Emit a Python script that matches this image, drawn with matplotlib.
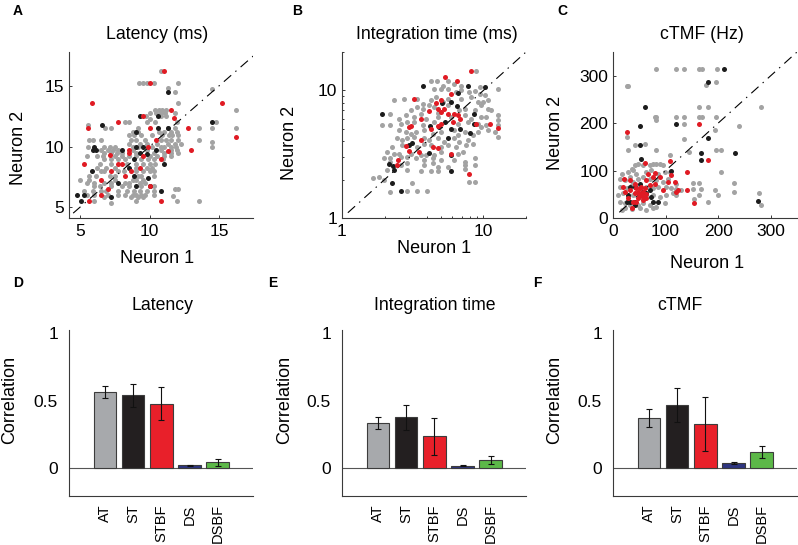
import numpy as np
import matplotlib
matplotlib.use('Agg')
import matplotlib.pyplot as plt
from matplotlib.ticker import NullFormatter

plt.rcParams['font.family'] = ['Liberation Sans', 'DejaVu Sans']
plt.rcParams['lines.scale_dashes'] = False

# ---- data: panel A latency (ms), neuron 1 vs neuron 2 ----
lat_grey = [
    (10.8, 16.25), (9.25, 15.25), (9.55, 15.25), (9.8, 15.25), (10.3, 15.25), (12.05, 15.25),
    (11.3, 14.85), (11.8, 14.5), (14.5, 14.75), (12.05, 13.55),
    (10.4, 13.0), (10.65, 13.0), (10.9, 13.0), (11.15, 13.0), (16.25, 13.0),
    (10.0, 12.75), (10.5, 12.75), (10.8, 12.75), (11.1, 12.75), (11.8, 12.75),
    (9.75, 12.5), (10.85, 12.5), (11.15, 12.5), (10.05, 12.25),
    (8.25, 12.05), (8.5, 12.05), (9.8, 12.05), (10.4, 12.05), (12.0, 12.05), (14.75, 12.05),
    (5.55, 11.75), (6.8, 11.5), (7.2, 11.5), (9.15, 11.5), (11.3, 11.5), (11.8, 11.5),
    (13.55, 11.5), (14.5, 11.5), (16.25, 11.5),
    (8.8, 11.2), (9.2, 11.2), (10.65, 11.2), (11.05, 11.2), (11.55, 11.2), (12.0, 11.2),
    (8.55, 10.95), (8.9, 10.95), (9.4, 10.95), (10.15, 10.95), (10.9, 10.95), (11.4, 10.95),
    (11.65, 10.95), (12.05, 10.95),
    (5.65, 10.5), (5.9, 10.5), (6.5, 10.5), (8.65, 10.5), (9.05, 10.5), (9.65, 10.5), (10.8, 10.5),
    (11.15, 10.5), (11.55, 10.5), (12.05, 10.5), (13.55, 10.5), (14.5, 10.4),
    (8.55, 10.2), (9.3, 10.2), (9.8, 10.2), (10.55, 10.2), (11.3, 10.2), (11.8, 10.2), (12.3, 10.2),
    (5.55, 10.0), (6.7, 10.0), (7.15, 10.0), (7.5, 10.0), (8.8, 10.0), (9.15, 10.0), (10.15, 10.0),
    (10.8, 10.0), (11.05, 10.0), (11.55, 10.0), (11.9, 10.0), (14.5, 10.0),
    (6.5, 9.7), (7.0, 9.7), (7.4, 9.7), (7.75, 9.7), (8.8, 9.7), (9.8, 9.7), (10.8, 9.7), (11.55, 9.7), (11.95, 9.7),
    (6.75, 9.5), (7.25, 9.5), (7.65, 9.5), (8.0, 9.5), (9.05, 9.5), (10.3, 9.5), (11.05, 9.5), (11.55, 9.5), (12.05, 9.5),
    (5.5, 9.25), (6.25, 9.25), (6.65, 9.25), (7.5, 9.25), (8.0, 9.25), (8.55, 9.25), (9.05, 9.25),
    (10.05, 9.25), (10.55, 9.25), (11.05, 9.25), (11.55, 9.25),
    (6.75, 8.95), (7.25, 8.95), (7.75, 8.95), (8.25, 8.95), (9.4, 8.95), (9.9, 8.95), (10.3, 8.95), (11.0, 8.95),
    (6.4, 8.55), (7.25, 8.55), (8.4, 8.55), (9.05, 8.55), (9.55, 8.55), (10.05, 8.55), (10.4, 8.55),
    (6.25, 8.25), (6.9, 8.25), (7.5, 8.25), (9.05, 8.25), (9.8, 8.25), (10.15, 8.25),
    (6.5, 8.0), (6.75, 8.0), (7.75, 8.0), (8.15, 8.0), (9.05, 8.0), (9.55, 8.0), (10.05, 8.0), (10.3, 8.0),
    (5.65, 7.55), (6.15, 7.55), (7.15, 7.55), (7.5, 7.55), (9.15, 7.55), (9.4, 7.55), (10.3, 7.55),
    (5.0, 7.2), (5.65, 7.2), (7.5, 7.2), (8.8, 7.2), (9.05, 7.2), (9.55, 7.2),
    (5.5, 7.0), (6.0, 7.0), (6.75, 7.0), (7.25, 7.0), (8.25, 7.0), (8.55, 7.0), (9.3, 7.0), (9.65, 7.0),
    (6.0, 6.7), (6.4, 6.7), (7.25, 6.7), (8.0, 6.7), (8.55, 6.7), (9.4, 6.7), (10.3, 6.7),
    (11.8, 6.5), (12.05, 6.5),
    (5.25, 6.3), (5.9, 6.3), (6.5, 6.3), (6.9, 6.3), (7.75, 6.3), (8.4, 6.3), (8.9, 6.3), (9.3, 6.3), (9.8, 6.3), (10.3, 6.3),
    (5.5, 6.0), (6.0, 6.0), (7.0, 6.0), (7.75, 6.0), (8.25, 6.0), (8.8, 6.0), (9.05, 6.0), (9.4, 6.0), (9.65, 6.0), (10.3, 6.0),
    (6.75, 5.8), (8.65, 5.8), (9.15, 5.8), (9.55, 5.8), (11.7, 5.9),
    (6.0, 5.5), (9.05, 5.5), (11.95, 5.5), (13.55, 5.5), (7.25, 5.3),
]
lat_black = [
    (11.3, 14.5), (9.3, 12.5), (10.6, 12.5), (6.55, 11.8), (14.5, 12.05), (9.05, 11.2), (10.6, 11.5),
    (6.0, 10.0), (5.9, 9.7), (6.15, 9.7), (8.0, 9.7), (9.05, 10.0), (9.55, 10.0), (10.5, 9.7),
    (9.3, 9.5), (9.85, 9.35), (8.9, 8.95), (8.55, 8.25), (5.85, 8.0), (11.05, 8.55), (8.85, 7.55),
    (9.9, 7.4), (7.75, 7.0), (9.05, 6.7), (10.05, 6.7), (10.8, 6.3), (5.25, 6.0), (4.8, 6.0),
    (5.05, 5.5), (7.25, 5.8), (11.3, 11.5),
]
lat_red = [
    (11.05, 16.25), (10.05, 15.25), (5.85, 13.55), (15.25, 13.55), (11.55, 13.05), (9.5, 12.5),
    (11.75, 12.35), (7.75, 12.05), (5.6, 11.5), (10.05, 11.5), (12.8, 11.5), (16.25, 10.75),
    (10.5, 10.5), (13.0, 9.7), (8.5, 9.7), (9.9, 9.95), (11.3, 9.65), (10.85, 9.0), (7.15, 9.3),
    (8.55, 9.5), (9.55, 9.25), (5.3, 8.55), (7.75, 8.55), (8.0, 8.55), (9.3, 8.25), (7.25, 8.0),
    (8.65, 8.0), (8.25, 7.55), (6.5, 7.2), (7.0, 6.5), (10.05, 6.7), (6.5, 6.0), (10.8, 5.5), (5.65, 5.5),
]

# ---- panel B integration time (ms) ----
int_grey = [
    (8.9, 14.1), (4.25, 11.8), (4.69, 11.8), (5.59, 11.8), (5.15, 10.9), (6.23, 11.3), (6.95, 10.9),
    (9.4, 10.6), (12.7, 10.3),
    (4.49, 10.3), (5.01, 10.3), (5.59, 10.3), (6.4, 9.7), (6.95, 10.0), (7.97, 9.7), (8.66, 9.83),
    (9.4, 9.42), (10.2, 9.15),
    (2.33, 8.36), (2.74, 8.6), (3.41, 8.6), (3.71, 7.89), (4.25, 8.36), (4.62, 8.88), (5.15, 8.1),
    (5.59, 8.6), (6.95, 8.6), (8.2, 8.88), (9.14, 8.1), (9.92, 8.1), (10.8, 8.36),
    (3.41, 7.43), (3.71, 7.2), (3.06, 6.98), (4.14, 7.65), (4.44, 7.43), (4.8, 6.7), (5.59, 7.65),
    (6.67, 6.98), (7.35, 7.2), (8.66, 6.98), (9.66, 7.65), (10.8, 7.2), (11.4, 6.98),
    (2.2, 6.58), (2.53, 6.0), (2.82, 6.4), (3.23, 6.2), (3.61, 6.58), (3.92, 6.0), (4.74, 6.2),
    (5.9, 6.2), (7.35, 6.4), (8.2, 6.0), (9.66, 6.2), (10.48, 6.2), (12.7, 6.4), (12.7, 5.83),
    (1.92, 5.33), (2.2, 5.33), (2.6, 5.5), (2.9, 5.66), (3.23, 5.66), (3.71, 5.33), (4.49, 5.66),
    (6.58, 5.5), (7.76, 5.66), (9.14, 5.5), (9.66, 5.18), (10.48, 5.33), (12.7, 5.33),
    (2.53, 4.87), (2.82, 4.73), (3.06, 4.59), (3.32, 4.73), (3.81, 4.87), (4.37, 4.59), (5.01, 4.73),
    (6.23, 4.87), (6.58, 4.45), (7.35, 4.73), (8.43, 4.45), (9.14, 4.73), (10.8, 4.87), (12.0, 4.73),
    (2.46, 4.2), (2.67, 4.07), (2.9, 4.2), (3.23, 4.32), (3.81, 4.2), (4.14, 4.07), (4.74, 4.2),
    (5.29, 3.95), (6.23, 4.2), (6.77, 3.95), (7.76, 4.07), (8.43, 3.83),
    (2.26, 3.61), (2.67, 3.72), (3.41, 3.61), (3.81, 3.83), (4.25, 3.72), (5.01, 3.61), (5.59, 3.72),
    (6.4, 3.61), (7.55, 3.72), (12.7, 4.32),
    (2.085, 3.3), (2.33, 3.2), (2.53, 3.2), (3.06, 3.2), (3.61, 3.1), (3.92, 3.1), (4.49, 3.1),
    (5.01, 3.3), (6.58, 3.2), (7.15, 3.3),
    (1.97, 2.93), (2.2, 2.93), (2.6, 3.01), (2.9, 3.01), (3.32, 2.93), (3.81, 2.84), (4.37, 2.93),
    (5.01, 2.84), (6.23, 2.84), (7.35, 2.76), (8.66, 2.93),
    (2.2, 2.76), (2.6, 2.6), (2.9, 2.68), (3.81, 2.6), (4.37, 2.68), (4.74, 2.52), (5.59, 2.52),
    (7.35, 2.6), (8.66, 2.6),
    (2.085, 2.37), (2.9, 2.37), (3.61, 2.33), (4.25, 2.33), (4.74, 2.33), (7.35, 2.44),
    (1.67, 2.04), (1.82, 2.1), (1.97, 1.98), (3.15, 1.87), (8.66, 1.92), (7.97, 1.92),
    (2.2, 1.6), (2.9, 1.63), (3.41, 1.63), (4.02, 1.63),
]
int_black = [
    (3.71, 10.9), (7.76, 10.8), (10.2, 10.6), (1.92, 6.55), (5.1, 7.9), (6.58, 9.5), (5.9, 8.1),
    (6.5, 7.55), (8.6, 6.57), (4.2, 5.27), (5.35, 5.66), (5.9, 4.95), (6.88, 4.95), (8.6, 5.43),
    (8.1, 4.66), (2.98, 3.72), (3.15, 3.9), (5.59, 4.24), (4.15, 3.26), (2.14, 2.66), (2.3, 2.56),
    (2.33, 2.37), (5.9, 3.1), (2.27, 1.87), (5.9, 2.33), (2.6, 1.62), (4.88, 5.17),
]
int_red = [
    (8.2, 14.3), (5.35, 12.7), (6.5, 11.8), (3.23, 8.6), (5.9, 9.4), (5.0, 8.35), (4.6, 7.9),
    (3.6, 6.0), (4.15, 6.95), (4.74, 7.2), (5.0, 6.8), (5.29, 7.2), (5.6, 6.57), (6.23, 6.57),
    (6.58, 6.4), (6.8, 6.0), (6.1, 5.66), (4.25, 5.02), (4.74, 5.25), (5.0, 5.5), (2.98, 5.15),
    (3.1, 5.27), (2.82, 3.68), (2.98, 3.34), (4.37, 3.6), (4.74, 3.55), (5.9, 3.2), (2.46, 2.6),
    (2.5, 2.84), (8.8, 5.5), (11.1, 5.5), (12.6, 5.07), (7.9, 2.23), (3.6, 4.1), (3.5, 3.3),
]

# ---- panel C cTMF (Hz) ----
tmf_grey = [
    (82, 314), (120, 314), (136, 314), (164, 314), (169, 314), (197, 314),
    (177, 280), (196, 286), (26, 279), (29, 279), (164, 233), (181, 233), (282, 233),
    (79, 212), (82, 212), (120, 212), (136, 212), (164, 212), (169, 212), (196, 212),
    (82, 206), (136, 198), (240, 195), (194, 185), (26, 171), (136, 167), (41, 154), (60, 157),
    (29, 143), (82, 143), (145, 139), (196, 143), (108, 132), (206, 143), (205, 97),
    (152, 73), (164, 73), (230, 73), (120, 62), (152, 62), (167, 62), (194, 59), (230, 55),
    (277, 52), (281, 27), (180, 34), (120, 48), (199, 48), (155, 41), (164, 48),
    (47.8, 114.6), (57.2, 111.1), (69.8, 112.5), (76.1, 114.6), (82.4, 114.6), (88.7, 114.6),
    (95, 111.1), (35.2, 104.2), (41.5, 111.1),
    (16.4, 93.7), (28.9, 97.2), (38.4, 100.7), (44.7, 93.7), (63.5, 97.2), (73, 100.7),
    (85.5, 93.7), (98.1, 97.2), (107.6, 97.2),
    (13.2, 83.2), (22.6, 79.7), (32.1, 86.7), (38.4, 76.2), (47.8, 83.2), (57.2, 86.7),
    (69.8, 83.2), (82.4, 79.7), (95, 76.2), (104.4, 83.2), (120.1, 72.7),
    (13.2, 65.7), (25.8, 62.2), (35.2, 69.2), (44.7, 65.7), (54.1, 58.7), (63.5, 65.7),
    (76.1, 62.2), (85.5, 65.7), (101.3, 65.7), (110.7, 62.2), (129.6, 58.7),
    (10.1, 48.2), (19.5, 51.7), (28.9, 44.7), (38.4, 48.2), (51, 44.7), (63.5, 48.2),
    (76.1, 48.2), (88.7, 44.7), (101.3, 48.2), (113.8, 51.7),
    (13.2, 34.3), (22.6, 30.8), (32.1, 27.3), (47.8, 27.3), (57.2, 30.8), (69.8, 27.3),
    (82.4, 23.8), (98.1, 30.8), (22.6, 20.3), (35.2, 18.9), (51, 20.3), (63.5, 16.8),
    (76.1, 20.3), (16.4, 16.8),
]
tmf_black = [
    (211, 314), (181, 286), (60, 233), (51, 195), (120, 199), (52, 154), (181, 168), (167, 137),
    (232, 137), (54, 124), (167, 122), (110, 100), (276, 36),
    (41.5, 65.7), (32.1, 65.7), (28.9, 48.2), (63.5, 51.7), (73, 44.7), (41.5, 34.3), (76.1, 34.3),
    (85.5, 34.3), (32.1, 34.3), (41.5, 27.3), (57.2, 55.2), (69.8, 58.7), (51, 72.7), (25.8, 34.3),
]
tmf_red = [
    (20.8, 83.2), (19.5, 65.7), (22.6, 55.2), (32.1, 79.7), (41.5, 72.7), (44.7, 62.2), (47.8, 55.2),
    (51, 48.2), (54.1, 65.7), (57.2, 55.2), (60.4, 62.2), (63.5, 79.7), (66.7, 93.7), (79.3, 95.8),
    (76.1, 86.7), (79.3, 72.7), (88.7, 86.7), (95, 58.7), (104.4, 76.2), (108.8, 119.5),
    (110.7, 90.2), (117, 76.2), (120.1, 55.2), (123.3, 58.7), (140.3, 97.2), (140.3, 58.7),
    (154.7, 32.2), (181.2, 121.6), (164.2, 198.5), (25.8, 181), (35.2, 20.3), (60.4, 116.7),
    (38.4, 34.3), (44.7, 34.3), (57.2, 37.7), (28.9, 41.2), (32.1, 58.7), (51, 62.2), (54.1, 48.2),
    (63.5, 41.2), (41.5, 51.7), (69.8, 69.2), (50, 50), (55, 52), (58, 45), (48, 42), (62, 50),
]

# ---- bar panels: correlation per pair type ----
pair_types = ['AT', 'ST', 'STBF', 'DS', 'DSBF']
bar_colors = ['#a7a9ac', '#231f20', '#e8202a', '#2e3580', '#5cb848']
lat_corr = [0.563, 0.538, 0.477, 0.020, 0.042]
lat_err = [0.043, 0.084, 0.123, 0.006, 0.025]
int_corr = [0.333, 0.375, 0.235, 0.017, 0.059]
int_err = [0.047, 0.094, 0.136, 0.005, 0.027]
tmf_corr = [0.370, 0.469, 0.328, 0.040, 0.121]
tmf_err = [0.068, 0.126, 0.200, 0.007, 0.044]

GREY = '#a3a3a3'
BLACK = '#1c1c1c'
RED = '#e01b24'
SPINE = '#3a3a3a'
TICK_FS = 12.5
TITLE_FS = 12.7
LABEL_FS = 13

fig = plt.figure(figsize=(7.98, 5.45), dpi=100)
W, H = 798.0, 545.0


def rect(left, top, w=184, h=166):
    return [left / W, (H - top - h) / H, w / W, h / H]


def style(ax):
    for s in ['top', 'right']:
        ax.spines[s].set_visible(False)
    for s in ['left', 'bottom']:
        ax.spines[s].set_color(SPINE)
        ax.spines[s].set_linewidth(0.8)
    ax.tick_params(which='both', direction='in', width=0.7, color=SPINE, labelsize=TICK_FS)
    ax.tick_params(which='major', length=2.5)
    ax.tick_params(which='minor', length=1.5)


def scatter_panel(ax, grey, black, red, lo, hi):
    for pts, c, z in [(grey, GREY, 2), (black, BLACK, 4), (red, RED, 5)]:
        xs, ys = zip(*pts)
        ax.scatter(xs, ys, s=13, color=c, linewidths=0, zorder=z)
    ax.plot([lo, hi], [lo, hi], color='k', lw=0.8, dashes=[7, 4, 1, 4], zorder=3)


# A
axA = fig.add_axes(rect(69, 52))
scatter_panel(axA, lat_grey, lat_black, lat_red, 4.5, 18)
axA.set_xlim(4.2, 17.45)
axA.set_ylim(4.1, 17.8)
axA.set_xticks([5, 10, 15])
axA.set_yticks([5, 10, 15])

# B
axB = fig.add_axes(rect(342, 52))
scatter_panel(axB, int_grey, int_black, int_red, 1.1, 20)
axB.set_xscale('log')
axB.set_yscale('log')
axB.set_xlim(1, 20)
axB.set_ylim(1, 20)
axB.set_xticks([1, 10])
axB.set_xticklabels(['1', '10'])
axB.set_yticks([1, 10])
axB.set_yticklabels(['1', '10'])
axB.xaxis.set_minor_formatter(NullFormatter())
axB.yaxis.set_minor_formatter(NullFormatter())

# C
axC = fig.add_axes(rect(613, 52))
scatter_panel(axC, tmf_grey, tmf_black, tmf_red, 12, 350)
axC.set_xlim(0, 350)
axC.set_ylim(0, 350)
axC.set_xticks([0, 100, 200, 300])
axC.set_yticks([0, 100, 200, 300])

tops = [
    (axA, 'Latency (ms)', 0.478, (-0.275, 0.425), (0.478, -0.245)),
    (axB, 'Integration time (ms)', 0.516, (-0.283, 0.455), (0.5, -0.185)),
    (axC, 'cTMF (Hz)', 0.483, (-0.315, 0.515), (0.51, -0.275)),
]
for ax, title, tx, ylc, xlc in tops:
    style(ax)
    ax.tick_params(axis='x', pad=4.5)
    ax.tick_params(axis='y', pad=3.5)
    ax.text(tx, 1.078, title, transform=ax.transAxes, ha='center', va='baseline', fontsize=TITLE_FS)
    ax.set_ylabel('Neuron 2', fontsize=LABEL_FS, va='center')
    ax.yaxis.set_label_coords(*ylc)
    ax.set_xlabel('Neuron 1', fontsize=LABEL_FS, va='center')
    ax.xaxis.set_label_coords(*xlc)

# D, E, F
bottoms = [
    (69, 'Latency', 0.506, lat_corr, lat_err, -0.32),
    (342, 'Integration time', 0.505, int_corr, int_err, -0.31),
    (613, 'cTMF', 0.364, tmf_corr, tmf_err, -0.315),
]
xpos = np.arange(1, len(pair_types) + 1)
for left, title, tx, vals, errs, ylx in bottoms:
    ax = fig.add_axes(rect(left, 330))
    style(ax)
    ax.bar(xpos, vals, width=0.8, color=bar_colors, edgecolor='#3c3c3c', linewidth=0.8, zorder=2)
    ax.errorbar(xpos, vals, yerr=errs, fmt='none', ecolor='#111111', elinewidth=0.8,
                capsize=2, capthick=0.8, zorder=3)
    ax.axhline(0, color='#555555', lw=0.8, zorder=1)
    ax.set_xlim(-0.27, 6.25)
    ax.set_ylim(-0.207, 1.022)
    ax.set_yticks([0, 0.5, 1])
    ax.set_yticklabels(['0', '0.5', '1'])
    ax.set_xticks(xpos)
    ax.set_xticklabels(pair_types, rotation=90, fontsize=10.5)
    ax.tick_params(axis='x', length=0, pad=6)
    ax.tick_params(axis='y', length=0, pad=8)
    ax.text(tx, 1.12, title, transform=ax.transAxes, ha='center', va='baseline', fontsize=TITLE_FS)
    ax.set_ylabel('Correlation', fontsize=LABEL_FS, va='center')
    ax.yaxis.set_label_coords(ylx, 0.578)

# panel letters
for letter, x, y in [('A', 18, 11), ('B', 297, 11), ('C', 562, 11),
                     ('D', 18, 283), ('E', 273, 283), ('F', 537, 283)]:
    fig.text(x / W, 1 - y / H, letter, fontsize=10, fontweight='bold', ha='center', va='center')

fig.savefig('out.png', dpi=100)
